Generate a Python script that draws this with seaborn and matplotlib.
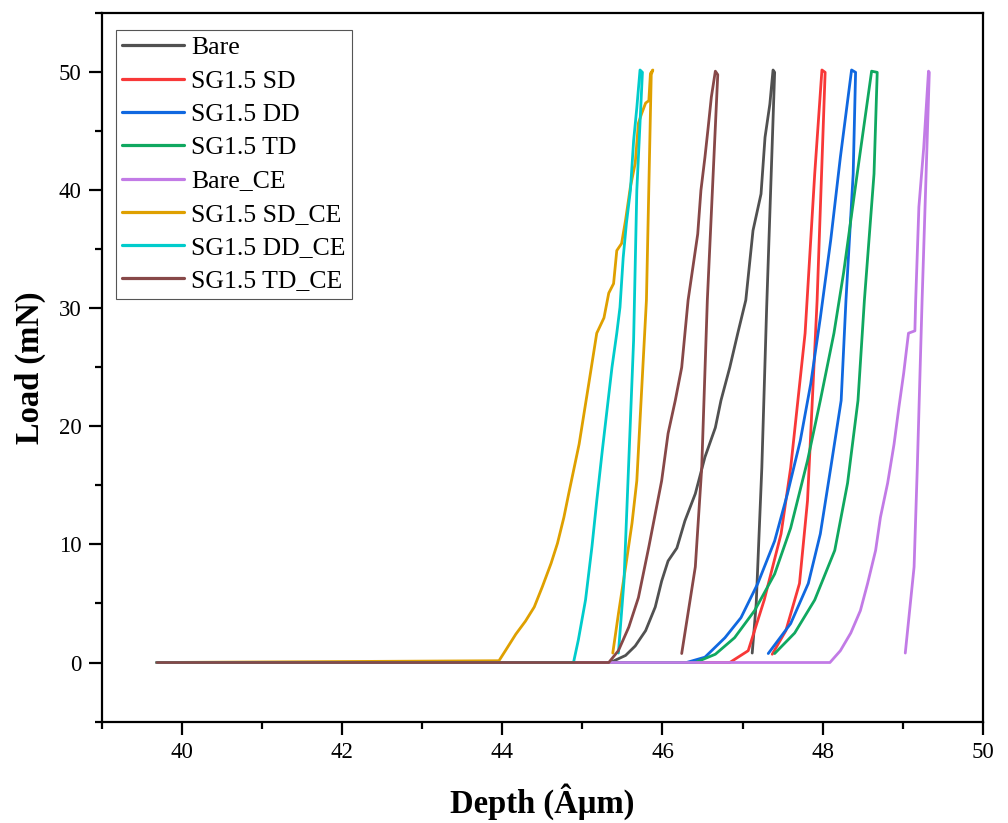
import matplotlib
matplotlib.use("Agg")
import matplotlib.pyplot as plt
import pandas as pd
import seaborn as sns
from matplotlib.ticker import MultipleLocator
from matplotlib.lines import Line2D

# ---------------- data ----------------
samples = ["Bare", "SG1.5 SD", "SG1.5 DD", "SG1.5 TD",
           "Bare_CE", "SG1.5 SD_CE", "SG1.5 DD_CE", "SG1.5 TD_CE"]
colors = ["#515151", "#F83838", "#1068E0", "#10A860",
          "#C27BE6", "#DFA000", "#00CCCC", "#874848"]

bare_depth = [39.69, 45.35, 45.54, 45.66, 45.79, 45.91, 45.99, 46.07, 46.18, 46.28,
              46.41, 46.53, 46.66, 46.73, 46.84, 46.94, 47.04, 47.13, 47.23, 47.28,
              47.34, 47.38, 47.40, 47.30, 47.24, 47.17, 47.12]
bare_load = [0.0, 0.0, 0.6, 1.4, 2.7, 4.7, 6.9, 8.6, 9.7, 12.0,
             14.3, 17.4, 19.9, 22.2, 25.0, 27.9, 30.7, 36.6, 39.7, 44.5,
             47.3, 50.2, 50.0, 30.0, 16.5, 5.0, 0.8]

sd_depth = [39.69, 46.84, 47.07, 47.27, 47.48, 47.60, 47.69, 47.78, 47.90, 47.99,
            48.03, 47.93, 47.87, 47.81, 47.71, 47.54, 47.37]
sd_load = [0.0, 0.0, 1.0, 5.3, 10.9, 16.5, 22.2, 27.9, 41.4, 50.2,
           50.0, 30.7, 22.2, 13.7, 6.7, 2.7, 0.7]

dd_depth = [39.69, 46.30, 46.53, 46.78, 46.98, 47.19, 47.40, 47.56, 47.72, 47.85,
            47.97, 48.10, 48.22, 48.36, 48.41, 48.38, 48.29, 48.23, 48.10, 47.97,
            47.82, 47.60, 47.32]
dd_load = [0.0, 0.0, 0.45, 2.1, 3.8, 6.7, 10.3, 14.3, 18.8, 23.6,
           29.2, 35.8, 42.8, 50.2, 50.0, 41.4, 30.7, 22.2, 16.5, 10.9,
           6.7, 3.3, 0.76]

td_depth = [39.69, 46.41, 46.66, 46.90, 47.15, 47.40, 47.60, 47.81, 47.97, 48.14,
            48.26, 48.43, 48.61, 48.68, 48.64, 48.52, 48.44, 48.31, 48.15, 47.90,
            47.65, 47.40]
td_load = [0.0, 0.0, 0.7, 2.1, 4.4, 7.5, 11.4, 17.1, 22.2, 27.9,
           33.0, 41.4, 50.1, 50.0, 41.4, 30.7, 22.2, 15.2, 9.5, 5.3,
           2.5, 0.76]

bare_ce_depth = [39.69, 48.09, 48.22, 48.35, 48.47, 48.56, 48.66, 48.72, 48.81, 48.89,
                 48.95, 49.01, 49.07, 49.15, 49.16, 49.20, 49.26, 49.32, 49.33, 49.24,
                 49.18, 49.14, 49.03]
bare_ce_load = [0.0, 0.0, 1.0, 2.5, 4.4, 6.7, 9.5, 12.3, 15.2, 18.5,
                21.6, 24.5, 27.9, 28.1, 30.7, 38.6, 43.6, 50.1, 50.0, 30.7,
                16.5, 8.1, 0.8]

sd_ce_depth = [39.69, 43.96, 44.04, 44.17, 44.29, 44.40, 44.50, 44.61, 44.69, 44.77,
               44.83, 44.96, 45.08, 45.18, 45.27, 45.33, 45.39, 45.43, 45.49, 45.54,
               45.60, 45.66, 45.70, 45.74, 45.79, 45.83, 45.85, 45.88, 45.86, 45.80,
               45.68, 45.62, 45.54, 45.45, 45.38]
sd_ce_load = [0.0, 0.15, 1.0, 2.4, 3.5, 4.7, 6.4, 8.4, 10.1, 12.3,
              14.3, 18.5, 23.6, 27.9, 29.2, 31.3, 32.1, 34.9, 35.5, 37.5,
              40.3, 42.3, 45.7, 46.5, 47.4, 47.6, 49.9, 50.2, 49.8, 30.7,
              15.4, 11.8, 8.1, 4.1, 0.8]

dd_ce_depth = [39.69, 44.89, 44.95, 45.04, 45.12, 45.18, 45.25, 45.37, 45.43, 45.47,
               45.51, 45.55, 45.60, 45.64, 45.68, 45.72, 45.75, 45.68, 45.64, 45.57,
               45.52, 45.45]
dd_ce_load = [0.0, 0.0, 1.9, 5.3, 9.8, 13.7, 18.0, 25.0, 27.9, 30.1,
              34.3, 37.2, 40.0, 44.2, 47.0, 50.2, 50.0, 40.0, 27.3, 15.4,
              6.9, 0.8]

td_ce_depth = [39.69, 45.33, 45.45, 45.58, 45.70, 45.83, 45.91, 45.99, 46.07, 46.16,
               46.24, 46.32, 46.38, 46.44, 46.48, 46.53, 46.57, 46.61, 46.66, 46.69,
               46.56, 46.49, 46.41, 46.24]
td_ce_load = [0.0, 0.0, 1.0, 3.0, 5.5, 9.8, 12.6, 15.4, 19.4, 22.2,
              25.0, 30.7, 33.5, 36.3, 40.0, 42.8, 45.3, 47.9, 50.1, 49.8,
              30.7, 16.5, 8.1, 0.76]

x_ticks = [40, 42, 44, 46, 48, 50]
y_ticks = [0, 10, 20, 30, 40, 50]

# ---------------- build long-form table ----------------
series = [(bare_depth, bare_load), (sd_depth, sd_load), (dd_depth, dd_load),
          (td_depth, td_load), (bare_ce_depth, bare_ce_load),
          (sd_ce_depth, sd_ce_load), (dd_ce_depth, dd_ce_load),
          (td_ce_depth, td_ce_load)]
frames = []
for name, (d, l) in zip(samples, series):
    frames.append(pd.DataFrame({"Sample": name, "Depth": d, "Load": l}))
df = pd.concat(frames, ignore_index=True)

# ---------------- style ----------------
sns.set_style("white")
plt.rcParams["font.family"] = ["Liberation Serif", "DejaVu Serif"]
plt.rcParams["text.color"] = "black"
plt.rcParams["axes.labelcolor"] = "black"
plt.rcParams["xtick.color"] = "black"
plt.rcParams["ytick.color"] = "black"

fig = plt.figure(figsize=(10.08, 8.23), dpi=100)
ax = fig.add_axes([0.1007, 0.1233, 0.8745, 0.8605])

palette = dict(zip(samples, colors))
sns.lineplot(data=df, x="Depth", y="Load", hue="Sample", hue_order=samples,
             palette=palette, sort=False, estimator=None, linewidth=2.0,
             legend=False, ax=ax)

ax.set_xlim(39, 50)
ax.set_ylim(-5, 55)
ax.set_xticks(x_ticks)
ax.set_yticks(y_ticks)
ax.xaxis.set_minor_locator(MultipleLocator(1))
ax.yaxis.set_minor_locator(MultipleLocator(5))

for s in ax.spines.values():
    s.set_linewidth(1.6)
    s.set_color("black")

ax.tick_params(which="major", direction="out", length=9.5, width=1.6,
               labelsize=16.5, pad=5, colors="black",
               bottom=True, left=True, top=False, right=False)
ax.tick_params(which="minor", direction="out", length=4.8, width=1.6,
               bottom=True, left=True, top=False, right=False)

ax.set_xlabel("Depth (Âµm)", fontsize=23.5, fontweight="bold", labelpad=15,
              color="black")
ax.set_ylabel("Load (mN)", fontsize=23.5, fontweight="bold", labelpad=9,
              color="black")

handles = [Line2D([0], [0], color=c, lw=2.3) for c in colors]
leg = ax.legend(handles, samples, loc="upper left",
                bbox_to_anchor=(0.0161, 0.9764), borderaxespad=0,
                frameon=True, fancybox=False, framealpha=1,
                edgecolor="#555555", fontsize=18.5, handlelength=2.4,
                handletextpad=0.28, labelspacing=0.4, borderpad=0.25)
leg.get_frame().set_linewidth(0.8)
for t in leg.get_texts():
    t.set_color("black")

fig.savefig("out.png", dpi=100)
